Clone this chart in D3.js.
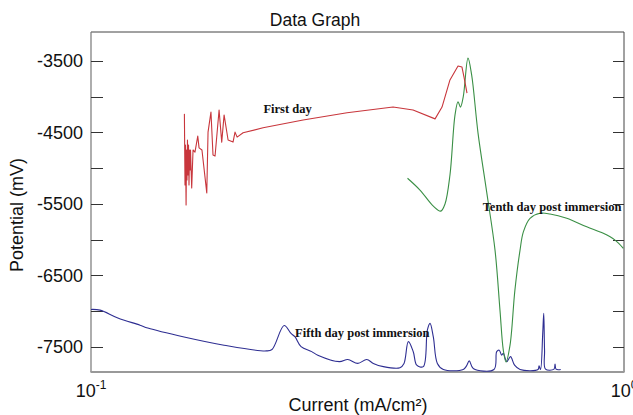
<!DOCTYPE html>
<html>
<head>
<meta charset="utf-8">
<script src="https://cdn.jsdelivr.net/npm/d3@7"></script>
<style>
  html, body { margin: 0; padding: 0; background: #fff; }
  svg { display: block; }
</style>
</head>
<body>
<svg id="chart" width="633" height="415"></svg>
<script>
// ---- Data (current in mA/cm², potential in mV) ----
const firstDayCurrent = [0.1497,0.1501,0.1504,0.1508,0.1511,0.1514,0.1517,0.1521,0.1524,0.1527,0.1531,0.1534,0.1537,0.1545,0.1554,0.1567,0.1586,0.1595,0.1615,0.1649,0.1658,0.1679,0.1694,0.1709,0.1739,0.1759,0.1777,0.1808,0.1847,0.1863,0.1880,0.1929,0.2103,0.2500,0.3023,0.3687,0.4020,0.4421,0.4556,0.4715,0.4882,0.4966,0.5010,0.5075];
const firstDayPotential = [-4240,-5235,-4675,-5515,-4745,-5165,-4605,-5095,-4675,-5235,-4745,-5025,-4745,-5275,-4745,-4775,-4550,-4715,-4745,-5345,-4495,-4215,-4815,-4830,-4185,-4635,-4255,-4605,-4635,-4495,-4565,-4505,-4435,-4325,-4225,-4145,-4185,-4310,-4145,-3765,-3570,-3585,-3725,-3950];

const fifthDayCurrent = [0.1000,0.1040,0.1123,0.1236,0.1278,0.1495,0.1777,0.2130,0.2186,0.2303,0.2373,0.2415,0.2478,0.2595,0.2664,0.2924,0.3032,0.3166,0.3291,0.3386,0.3536,0.3799,0.3866,0.3939,0.4025,0.4085,0.4202,0.4276,0.4326,0.4388,0.4465,0.4582,0.4994,0.5064,0.5125,0.5214,0.5703,0.5770,0.5834,0.5895,0.5937,0.6025,0.6125,0.6233,0.6382,0.6898,0.6928,0.6972,0.7039,0.7070,0.7095,0.7125,0.7391,0.7424,0.7456,0.7608];
const fifthDayPotential = [-6975,-6985,-7095,-7195,-7235,-7360,-7475,-7555,-7535,-7200,-7310,-7360,-7495,-7565,-7615,-7705,-7675,-7730,-7675,-7730,-7775,-7790,-7730,-7425,-7570,-7755,-7775,-7265,-7170,-7360,-7730,-7815,-7815,-7765,-7695,-7800,-7815,-7565,-7545,-7615,-7590,-7705,-7635,-7755,-7815,-7815,-7765,-7815,-7310,-7030,-7545,-7810,-7810,-7740,-7810,-7815];

const tenthDayCurrent = [0.3925,0.4142,0.4388,0.4530,0.4615,0.4715,0.4819,0.4882,0.4934,0.4994,0.5097,0.5178,0.5322,0.5526,0.5728,0.5852,0.5937,0.6007,0.6112,0.6242,0.6382,0.6474,0.6663,0.6958,0.7264,0.7809,0.8514,0.9145,0.9622,0.9971];
const tenthDayPotential = [-5140,-5305,-5530,-5600,-5500,-5095,-4255,-4070,-4145,-4000,-3460,-3695,-4505,-5335,-6145,-6985,-7545,-7710,-7475,-6705,-6145,-5890,-5700,-5630,-5640,-5700,-5820,-5910,-6005,-6120];

const yTicksMajor = [-3500,-4500,-5500,-6500,-7500];
const yTicksMinor = [-4000,-5000,-6000,-7000];
const xTickLabels = [{v:0.1, base:"10", exp:"-1"}, {v:1, base:"10", exp:"0"}];
const seriesLabels = [
  {text:"First day", c:0.2106, p:-4232},
  {text:"Fifth day post immersion", c:0.2415, p:-7360},
  {text:"Tenth day post immersion", c:0.5430, p:-5600}
];

// ---- Layout ----
const svg = d3.select("#chart");
const L = 91, R = 624, T = 32, B = 372;

const x = d3.scaleLog().domain([0.1, 1]).range([L, R]);
const y = d3.scaleLinear().domain([-7850, -3095]).range([B, T]);

const sans = "'Liberation Sans', Arial, sans-serif";
const serif = "'Liberation Serif', 'Times New Roman', serif";

// Title
svg.append("text").attr("x", 315).attr("y", 26).attr("text-anchor", "middle")
  .attr("font-family", sans).attr("font-size", 17.5).attr("fill", "#111").text("Data Graph");

// Frame
svg.append("line").attr("x1", L).attr("x2", R).attr("y1", T).attr("y2", T).attr("stroke", "#444").attr("stroke-width", 1);
svg.append("line").attr("x1", R).attr("x2", R).attr("y1", T).attr("y2", B).attr("stroke", "#444").attr("stroke-width", 1);
svg.append("line").attr("x1", L).attr("x2", L).attr("y1", T).attr("y2", B).attr("stroke", "#777").attr("stroke-width", 1.2);
svg.append("line").attr("x1", L - 0.5).attr("x2", R + 0.5).attr("y1", B).attr("y2", B).attr("stroke", "#999").attr("stroke-width", 2);

// Y axis (left) with inward ticks
const yAxisLeft = d3.axisLeft(y).tickValues(yTicksMajor).tickSize(0).tickPadding(8).tickFormat(d => String(d));
const gl = svg.append("g").attr("transform", `translate(${L},0)`).call(yAxisLeft);
gl.select(".domain").remove();
gl.selectAll("text").attr("font-family", sans).attr("font-size", 18).attr("fill", "#111");

const allTicks = yTicksMajor.concat(yTicksMinor);
svg.append("g").selectAll("line").data(allTicks).join("line")
  .attr("x1", L).attr("x2", L + 12).attr("y1", d => Math.round(y(d)) + 0.5).attr("y2", d => Math.round(y(d)) + 0.5)
  .attr("stroke", "#333").attr("stroke-width", 1);
svg.append("g").selectAll("line").data(allTicks).join("line")
  .attr("x1", R - 11).attr("x2", R).attr("y1", d => Math.round(y(d)) + 0.5).attr("y2", d => Math.round(y(d)) + 0.5)
  .attr("stroke", "#333").attr("stroke-width", 1);

// X tick labels with superscripts
xTickLabels.forEach(t => {
  const tx = svg.append("text").attr("x", x(t.v)).attr("y", 397).attr("text-anchor", "middle")
    .attr("font-family", sans).attr("font-size", 18).attr("fill", "#111");
  tx.append("tspan").text(t.base);
  tx.append("tspan").attr("font-size", 12).attr("dy", -8).text(t.exp);
});

// Axis titles
svg.append("text").attr("x", 358).attr("y", 411).attr("text-anchor", "middle")
  .attr("font-family", sans).attr("font-size", 18).attr("fill", "#111").text("Current (mA/cm²)");
svg.append("text").attr("transform", "translate(23,215) rotate(-90)").attr("text-anchor", "middle")
  .attr("font-family", sans).attr("font-size", 18).attr("fill", "#111").text("Potential (mV)");

// Lines
const zip = (cs, ps) => cs.map((c, i) => [c, ps[i]]);
const lineLin = d3.line().x(d => x(d[0])).y(d => y(d[1]));
const lineSmooth = d3.line().x(d => x(d[0])).y(d => y(d[1])).curve(d3.curveCatmullRom.alpha(0.5));

const plot = svg.append("g");
plot.append("path").datum(zip(fifthDayCurrent, fifthDayPotential)).attr("d", lineSmooth)
  .attr("fill", "none").attr("stroke", "#2e2e92").attr("stroke-width", 1.1);
plot.append("path").datum(zip(tenthDayCurrent, tenthDayPotential)).attr("d", lineSmooth)
  .attr("fill", "none").attr("stroke", "#3a8f45").attr("stroke-width", 1.1);
plot.append("path").datum(zip(firstDayCurrent, firstDayPotential)).attr("d", lineLin)
  .attr("fill", "none").attr("stroke", "#c8363c").attr("stroke-width", 1.1).attr("stroke-linejoin", "round");

// Series labels
seriesLabels.forEach(s => {
  svg.append("text").attr("x", x(s.c)).attr("y", y(s.p))
    .attr("font-family", serif).attr("font-weight", "bold").attr("font-size", 12.5).attr("fill", "#111")
    .text(s.text);
});
</script>
</body>
</html>
